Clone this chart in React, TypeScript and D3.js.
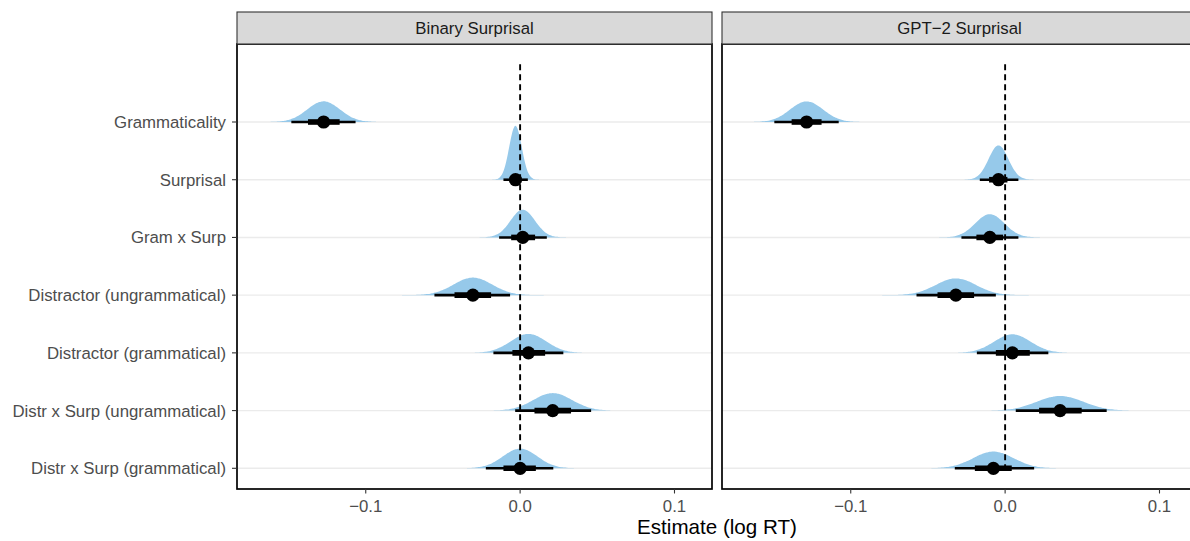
import React from "react";
import * as d3 from "d3";

const categories = [
  "Grammaticality",
  "Surprisal",
  "Gram x Surp",
  "Distractor (ungrammatical)",
  "Distractor (grammatical)",
  "Distr x Surp (ungrammatical)",
  "Distr x Surp (grammatical)",
];

const panels = ["Binary Surprisal", "GPT\u22122 Surprisal"];

// Binary surprisal model: 95% / 66% intervals and medians
const binaryLo95 = [-0.1482, -0.0108, -0.0136, -0.0555, -0.0173, -0.0032, -0.0222];
const binaryLo66 = [-0.1374, -0.0068, -0.0058, -0.0425, -0.005, 0.0093, -0.0108];
const binaryMedian = [-0.1273, -0.003, 0.0017, -0.0306, 0.0054, 0.0211, 0.0];
const binaryHi66 = [-0.1169, 0.0008, 0.0097, -0.0188, 0.0162, 0.033, 0.0102];
const binaryHi95 = [-0.1066, 0.005, 0.0173, -0.0065, 0.028, 0.046, 0.0215];

// GPT-2 surprisal model
const gptLo95 = [-0.1495, -0.0164, -0.0283, -0.0574, -0.0183, 0.0069, -0.0326];
const gptLo66 = [-0.1383, -0.0104, -0.0186, -0.0438, -0.006, 0.022, -0.0196];
const gptMedian = [-0.1286, -0.0043, -0.0099, -0.0319, 0.0047, 0.0356, -0.0076];
const gptHi66 = [-0.1189, 0.0015, -0.0013, -0.0201, 0.016, 0.0496, 0.0043];
const gptHi95 = [-0.1078, 0.0086, 0.0086, -0.006, 0.028, 0.0658, 0.0188];

const xTicks = [-0.1, 0.0, 0.1];
const xDomain = [-0.1834, 0.1243];

const W = 1190;
const H = 541;
const panelTop = 44;
const panelBottom = 489;
const stripTop = 12;
const panelWidth = 475;
const panelLefts = [237, 722];
const yRange = [122, 468.3];

const FONT = "'Liberation Sans', Arial, Helvetica, sans-serif";
const FILL = "#96c9ea";

const panelData = [
  { lo95: binaryLo95, lo66: binaryLo66, med: binaryMedian, hi66: binaryHi66, hi95: binaryHi95 },
  { lo95: gptLo95, lo66: gptLo66, med: gptMedian, hi66: gptHi66, hi95: gptHi95 },
];

function fmtTick(v: number) {
  const s = d3.format(".1f")(v);
  return s.replace("-", "\u2212");
}

export default function App() {
  const y = d3.scalePoint<string>().domain(categories).range(yRange);
  const step = y.step();
  const densityScale = step * 0.00953; // px per unit density

  return (
    <svg
      width={W}
      height={H}
      style={{ position: "absolute", left: 0, top: 0, background: "#fff" }}
      fontFamily={FONT}
    >
      <defs>
        {panelLefts.map((pl, pi) => (
          <clipPath id={`clip${pi}`} key={pi}>
            <rect x={pl} y={panelTop} width={panelWidth} height={panelBottom - panelTop} />
          </clipPath>
        ))}
      </defs>

      {panelLefts.map((pl, pi) => {
        const x = d3.scaleLinear().domain(xDomain).range([pl, pl + panelWidth]);
        const d = panelData[pi];
        const samples = d3.range(0, 301).map((i) => xDomain[0] + ((xDomain[1] - xDomain[0]) * i) / 300);
        return (
          <g key={pi}>
            <g clipPath={`url(#clip${pi})`}>
              {categories.map((c) => (
                <line key={c} x1={pl} x2={pl + panelWidth} y1={y(c)} y2={y(c)} stroke="#ebebeb" strokeWidth={1.4} />
              ))}
              {categories.map((c, i) => {
                const sd = (d.hi95[i] - d.lo95[i]) / 3.92;
                const mu = d.med[i];
                const base = y(c)!;
                const area = d3
                  .area<number>()
                  .x((v) => x(v))
                  .y0(base)
                  .y1((v) => base - densityScale * (Math.exp(-0.5 * ((v - mu) / sd) ** 2) / (sd * Math.sqrt(2 * Math.PI))))
                  .curve(d3.curveBasis);
                return <path key={c} d={area(samples) || ""} fill={FILL} />;
              })}
              <line
                x1={x(0)}
                x2={x(0)}
                y1={y(categories[0])! - step}
                y2={y(categories[categories.length - 1])!}
                stroke="#000"
                strokeWidth={1.9}
                strokeDasharray="6,4"
              />
              {categories.map((c, i) => {
                const cy = y(c)!;
                return (
                  <g key={c}>
                    <line x1={x(d.lo95[i])} x2={x(d.hi95[i])} y1={cy} y2={cy} stroke="#000" strokeWidth={2.6} />
                    <line x1={x(d.lo66[i])} x2={x(d.hi66[i])} y1={cy} y2={cy} stroke="#000" strokeWidth={5.6} />
                    <circle cx={x(d.med[i])} cy={cy} r={6.6} fill="#000" />
                  </g>
                );
              })}
            </g>
            <rect
              x={pl}
              y={panelTop}
              width={panelWidth}
              height={panelBottom - panelTop}
              fill="none"
              stroke="#000"
              strokeWidth={1.7}
            />
            <rect
              x={pl}
              y={stripTop}
              width={panelWidth}
              height={panelTop - stripTop}
              fill="#d9d9d9"
              stroke="#333333"
              strokeWidth={1.1}
            />
            <text
              x={pl + panelWidth / 2}
              y={(stripTop + panelTop) / 2}
              dy="0.36em"
              textAnchor="middle"
              fontSize={16.8}
              fill="#1a1a1a"
            >
              {panels[pi]}
            </text>
            {xTicks.map((t) => (
              <g key={t}>
                <line x1={x(t)} x2={x(t)} y1={panelBottom} y2={panelBottom + 4.5} stroke="#333" strokeWidth={1.1} />
                <text x={x(t)} y={512} textAnchor="middle" fontSize={16.8} fill="#4d4d4d">
                  {fmtTick(t)}
                </text>
              </g>
            ))}
          </g>
        );
      })}

      {categories.map((c) => (
        <g key={c}>
          <line x1={232} x2={237} y1={y(c)} y2={y(c)} stroke="#333" strokeWidth={1.1} />
          <text x={226} y={y(c)} dy="0.36em" textAnchor="end" fontSize={16.8} fill="#4d4d4d">
            {c}
          </text>
        </g>
      ))}

      <text x={(panelLefts[0] + panelLefts[1] + panelWidth) / 2} y={534} textAnchor="middle" fontSize={20.6} fill="#000">
        Estimate (log RT)
      </text>
    </svg>
  );
}
